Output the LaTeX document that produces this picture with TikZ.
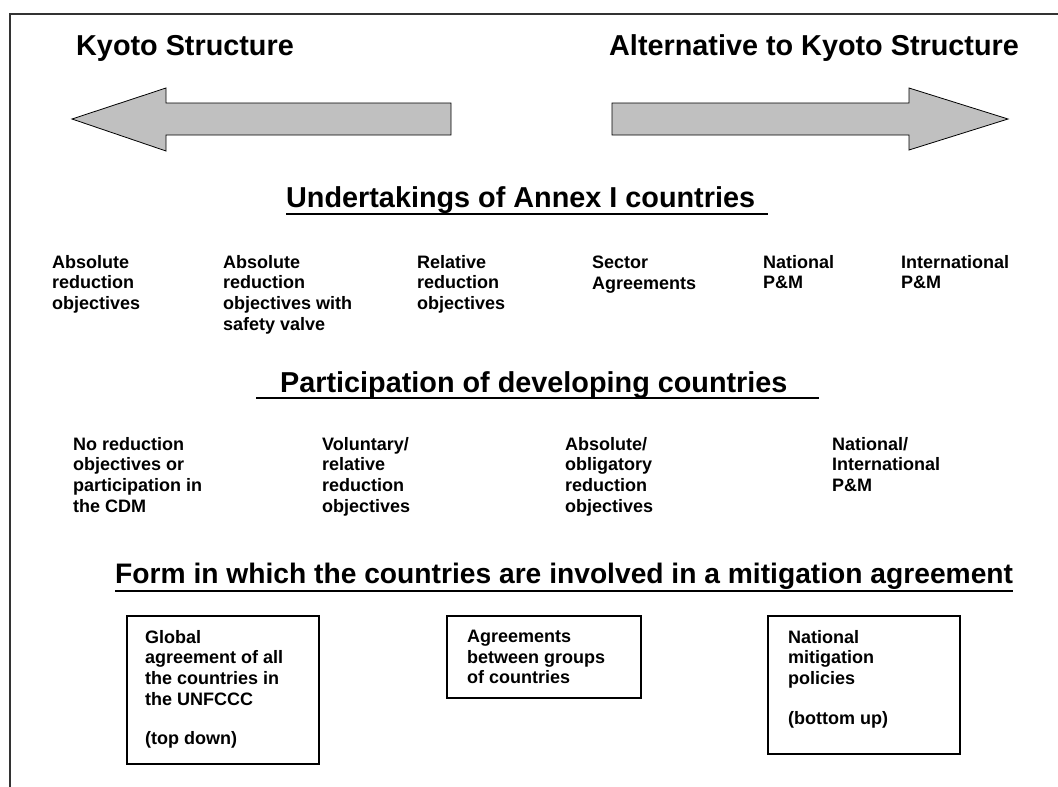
\documentclass[tikz,border=0pt]{standalone}
\usepackage{fontspec}
\setmainfont{Liberation Sans}
\usepackage{xcolor}
\usetikzlibrary{positioning}
\definecolor{arrowgray}{HTML}{C0C0C0}
\definecolor{framegray}{HTML}{333333}

\begin{document}
\begin{tikzpicture}[
  x=1pt,y=-1pt,
  title/.style={font=\fontsize{28.8}{33}\selectfont\bfseries,inner sep=0,anchor=base west},
  head/.style={title},
  item/.style={font=\fontsize{18}{20.6}\selectfont\bfseries,align=left,inner sep=0,anchor=north west},
  optbox/.style={draw,line width=1.6pt,anchor=north west,inner sep=0},
  bigarrow/.style={draw=black,fill=arrowgray,line width=0.8pt},
  uline/.style={line width=2.6pt},
  frame/.style={draw=framegray,line width=1.8pt}
]
  \useasboundingbox (0,0) rectangle (1058,787);
  \draw[frame] (10,787) -- (10,14) -- (1058,14);

  % direction arrows
  \node[title] (kyoto) at (76,55) {Kyoto Structure};
  \node[title] (alt) at (609,55) {Alternative to Kyoto Structure};
  \draw[bigarrow] (72,119) -- (166,88) -- (166,103) -- (451,103) -- (451,135) -- (166,135) -- (166,151) -- cycle;
  \draw[bigarrow] (612,103) -- (909,103) -- (909,88) -- (1008,119) -- (909,150) -- (909,135) -- (612,135) -- cycle;

  % Annex I
  \node[head] (annex) at (286,207) {Undertakings of Annex I countries};
  \draw[uline] ([yshift=-7pt]annex.base west) -- ([xshift=13pt,yshift=-7pt]annex.base east);
  \node[item] (abs) at (52,255) {Absolute\\reduction\\objectives};
  \node[item] (absvalve) at (223,255) {Absolute\\reduction\\objectives with\\safety valve};
  \node[item] (rel) at (417,255) {Relative\\reduction\\objectives};
  \node[item] (sector) at (592,256) {Sector\\Agreements};
  \node[item] (natpm) at (763,255) {National\\P\&M};
  \node[item] (intpm) at (901,255) {International\\P\&M};

  % developing countries
  \node[head] (dev) at (280,392) {Participation of developing countries};
  \draw[uline] ([xshift=-24pt,yshift=-6pt]dev.base west) -- ([xshift=31pt,yshift=-6pt]dev.base east);
  \node[item] (nored) at (73,437) {No reduction\\objectives or\\participation in\\the CDM};
  \node[item] (vol) at (322,437) {Voluntary/\\relative\\reduction\\objectives};
  \node[item] (oblig) at (565,437) {Absolute/\\obligatory\\reduction\\objectives};
  \node[item] (natint) at (832,437) {National/\\International\\P\&M};

  % form of involvement
  \node[head,font=\fontsize{28.2}{33}\selectfont\bfseries] (form) at (115,583) {Form in which the countries are involved in a mitigation agreement};
  \draw[uline] ([yshift=-8pt]form.base west) -- ([yshift=-8pt]form.base east);
  \node[optbox,minimum width=192pt,minimum height=148pt] (global) at (126,615) {};
  \node[optbox,minimum width=194pt,minimum height=82pt] (groups) at (446,615) {};
  \node[optbox,minimum width=192pt,minimum height=138pt] (nation) at (767,615) {};
  \node[item,below right=15pt and 19pt of global.north west] (globaltxt) {Global\\agreement of all\\the countries in\\the UNFCCC\\[19pt](top down)};
  \node[item,below right=15pt and 21pt of groups.north west] (groupstxt) {Agreements\\between groups\\of countries};
  \node[item,below right=15pt and 21pt of nation.north west] (nationtxt) {National\\mitigation\\policies\\[19pt](bottom up)};
\end{tikzpicture}
\end{document}
